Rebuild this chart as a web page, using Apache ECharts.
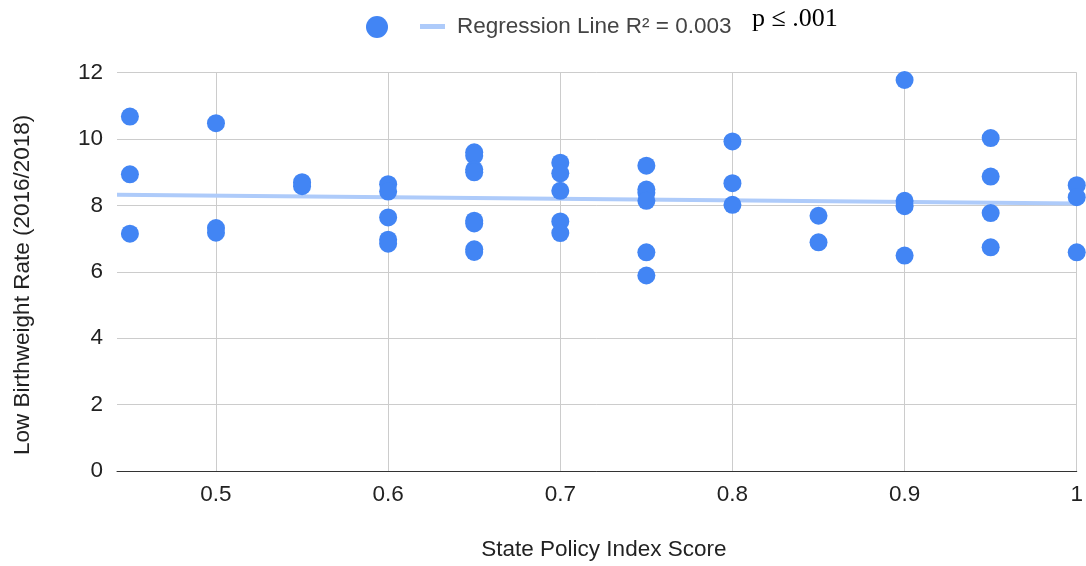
<!DOCTYPE html>
<html>
<head>
<meta charset="utf-8">
<script src="https://cdn.jsdelivr.net/npm/echarts@6/dist/echarts.min.js"></script>
<style>html,body{margin:0;padding:0;background:#fff}#c{width:1086px;height:566px}</style>
</head>
<body>
<div id="c"></div>
<script>
// State Policy Index Score (x) and Low Birthweight Rate (y)
const policyScores = [
  0.45, 0.45, 0.45,
  0.5, 0.5, 0.5,
  0.55, 0.55,
  0.6, 0.6, 0.6, 0.6, 0.6,
  0.65, 0.65, 0.65, 0.65, 0.65, 0.65, 0.65, 0.65,
  0.7, 0.7, 0.7, 0.7, 0.7,
  0.75, 0.75, 0.75, 0.75, 0.75, 0.75,
  0.8, 0.8, 0.8,
  0.85, 0.85,
  0.9, 0.9, 0.9, 0.9,
  0.95, 0.95, 0.95, 0.95,
  1.0, 1.0, 1.0
];
const birthweightRates = [
  10.68, 8.94, 7.15,
  10.48, 7.32, 7.18,
  8.70, 8.58,
  8.64, 8.42, 7.64, 6.97, 6.85,
  9.60, 9.50, 9.08, 9.00, 7.54, 7.46, 6.68, 6.60,
  9.29, 8.97, 8.44, 7.52, 7.17,
  9.20, 8.48, 8.38, 8.14, 6.59, 5.89,
  9.93, 8.67, 8.02,
  7.69, 6.89,
  11.78, 8.14, 7.98, 6.49,
  10.03, 8.87, 7.77, 6.74,
  8.61, 8.25, 6.59
];
// Regression line end points
const regressionX = [0.4425, 1.0];
const regressionY = [8.32, 8.06];
const xTickValues = [0.5, 0.6, 0.7, 0.8, 0.9, 1.0];

const points = policyScores.map((x, i) => [x, birthweightRates[i]]);
const regression = regressionX.map((x, i) => [x, regressionY[i]]);

const FONT = '"Liberation Sans", Arial, sans-serif';
const FS = 22.5;
const chart = echarts.init(document.getElementById('c'), null, {renderer: 'canvas'});
chart.setOption({
  animation: false,
  backgroundColor: '#fff',
  grid: {left: 117, right: 8, top: 72.7, bottom: 94.3, containLabel: false},
  legend: [
    {
      data: [{name: 'Low Birthweight Rate', icon: 'circle'}],
      left: 366, top: 16, padding: 0,
      itemWidth: 22, itemHeight: 22,
      formatter: () => '',
      selectedMode: false
    },
    {
      data: [{name: 'Regression Line R² = 0.003', icon: 'rect'}],
      left: 420, top: 15, padding: 0,
      itemWidth: 25, itemHeight: 5,
      selectedMode: false,
      textStyle: {fontFamily: FONT, fontSize: FS, color: '#444', padding: [0, 0, 0, 7]}
    }
  ],
  xAxis: {
    type: 'value',
    min: 0.4425, max: 1.0,
    name: 'State Policy Index Score',
    nameLocation: 'middle',
    nameGap: 67,
    nameTextStyle: {fontFamily: FONT, fontSize: FS, color: '#222', padding: [0, 0, 0, 14]},
    axisLine: {show: true, onZero: false, lineStyle: {color: '#333', width: 1}},
    axisTick: {show: false, customValues: xTickValues},
    axisLabel: {customValues: xTickValues, fontFamily: FONT, fontSize: FS, color: '#222', margin: 12,
      formatter: v => String(+v.toFixed(2))},
    splitLine: {show: true, customValues: xTickValues, lineStyle: {color: '#cccccc', width: 1}}
  },
  yAxis: {
    type: 'value',
    min: 0, max: 12, interval: 2,
    name: 'Low Birthweight Rate (2016/2018)',
    nameLocation: 'middle',
    nameGap: 83,
    nameTextStyle: {fontFamily: FONT, fontSize: FS, color: '#222', padding: [0, 26, 0, 0]},
    axisLine: {show: false},
    axisTick: {show: false},
    axisLabel: {fontFamily: FONT, fontSize: FS, color: '#222', margin: 14},
    splitLine: {show: true, lineStyle: {color: '#cccccc', width: 1}}
  },
  series: [
    {
      name: 'Regression Line R² = 0.003',
      type: 'line',
      data: regression,
      symbol: 'none',
      z: 1,
      lineStyle: {color: '#aecbfa', width: 4},
      itemStyle: {color: '#aecbfa'}
    },
    {
      name: 'Low Birthweight Rate',
      type: 'scatter',
      data: points,
      symbolSize: 18,
      z: 3,
      clip: false,
      itemStyle: {color: '#4285f4', opacity: 1}
    }
  ],
  graphic: [{
    type: 'text', left: 752, top: 6,
    style: {text: 'p ≤ .001', font: '26px "Liberation Serif", "Times New Roman", serif', fill: '#000'}
  }]
});
</script>
</body>
</html>
